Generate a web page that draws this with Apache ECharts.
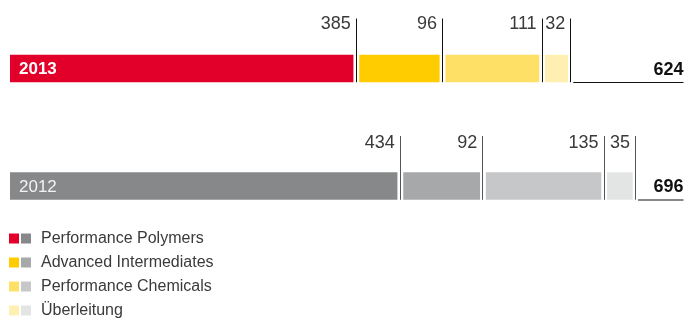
<!DOCTYPE html>
<html><head><meta charset="utf-8">
<script src="https://cdn.jsdelivr.net/npm/echarts@6/dist/echarts.min.js"></script>
<style>html,body{margin:0;padding:0;background:#fff}#c{width:686px;height:320px}</style>
</head><body><div id="c"></div>
<script>
var categories = ['2013', '2012'];
var segments = ['Performance Polymers', 'Advanced Intermediates', 'Performance Chemicals', 'Überleitung'];
var values2013 = [385, 96, 111, 32];
var values2012 = [434, 92, 135, 35];
var totals = [624, 696];
var colors2013 = ['#E2002A', '#FFCC00', '#FFE066', '#FFF0B2'];
var colors2012 = ['#87888A', '#A7A8AA', '#C6C7C8', '#E3E4E4'];
var lineColors = ['#111111', '#555555'];

var FONT = '"Liberation Sans", Arial, sans-serif';
var chart = echarts.init(document.getElementById('c'), null, {renderer: 'canvas'});

var allVals = [values2013, values2012];
var allCols = [colors2013, colors2012];

function segData(si) {
  var d = [];
  for (var c = 0; c < categories.length; c++) {
    var start = 0;
    for (var k = 0; k < si; k++) start += allVals[c][k];
    d.push([c, start, start + allVals[c][si], allVals[c][si]]);
  }
  return d;
}

var series = segments.map(function (name, si) {
  return {
    type: 'custom', name: name,
    encode: {x: [1, 2], y: 0},
    data: segData(si),
    renderItem: function (params, api) {
      var c = api.value(0);
      var p0 = api.coord([api.value(1), c]);
      var p1 = api.coord([api.value(2), c]);
      var cy = p0[1];
      var hh = 13.75;
      var x0 = si === 0 ? p0[0] : p0[0] + 3.5;
      var x1 = p1[0] - 2.3;
      var children = [
        {type: 'rect', shape: {x: x0, y: cy - hh, width: x1 - x0, height: hh * 2},
         style: {fill: allCols[c][si]}},
        {type: 'line', shape: {x1: Math.round(p1[0]) + 0.5, y1: cy - 50, x2: Math.round(p1[0]) + 0.5, y2: cy + hh},
         style: {stroke: lineColors[c], lineWidth: 1}},
        {type: 'text', style: {text: String(api.value(3)), x: p1[0] - 5, y: cy - 44 + (c === 1 ? 1.5 : 0),
          align: 'right', verticalAlign: 'middle', fill: '#3a3a3a', font: '18px ' + FONT}}
      ];
      if (si === 0) {
        children.push({type: 'text', style: {text: categories[c], x: x0 + 9, y: cy + 1,
          align: 'left', verticalAlign: 'middle', fill: c === 0 ? '#fff' : '#f2f2f2',
          font: (c === 0 ? 'bold ' : '') + '17px ' + FONT}});
      }
      return {type: 'group', children: children};
    }
  };
});

series.push({
  type: 'custom', name: 'total',
  encode: {x: 1, y: 0},
  data: totals.map(function (t, c) { return [c, t]; }),
  renderItem: function (params, api) {
    var c = api.value(0);
    var p = api.coord([api.value(1), c]);
    var cy = p[1];
    var right = params.coordSys.x + params.coordSys.width;
    return {type: 'group', children: [
      {type: 'line', shape: {x1: p[0] + 3, y1: cy + 14, x2: right, y2: cy + 14},
       style: {stroke: '#111', lineWidth: 1}},
      {type: 'text', style: {text: String(api.value(1)), x: right, y: cy + 1.5,
        align: 'right', verticalAlign: 'middle', fill: '#111', font: 'bold 18px ' + FONT}}
    ]};
  }
});

var legendGraphics = [];
segments.forEach(function (name, i) {
  var y = 233.5 + i * 24;
  legendGraphics.push({type: 'rect', left: 9, top: y, shape: {width: 10, height: 10}, style: {fill: colors2013[i]}});
  legendGraphics.push({type: 'rect', left: 21, top: y, shape: {width: 10, height: 10}, style: {fill: colors2012[i]}});
  legendGraphics.push({type: 'text', x: 41, y: y + 5.5, style: {text: name, fill: '#3a3a3a', font: '16px ' + FONT, verticalAlign: 'middle'}});
});

chart.setOption({
  animation: false,
  grid: {left: 10, right: 2.5, top: 9.75, height: 235},
  xAxis: {type: 'value', min: 0, max: 750, show: false},
  yAxis: {type: 'category', data: categories, inverse: true, show: false},
  series: series,
  graphic: legendGraphics
});
</script></body></html>
